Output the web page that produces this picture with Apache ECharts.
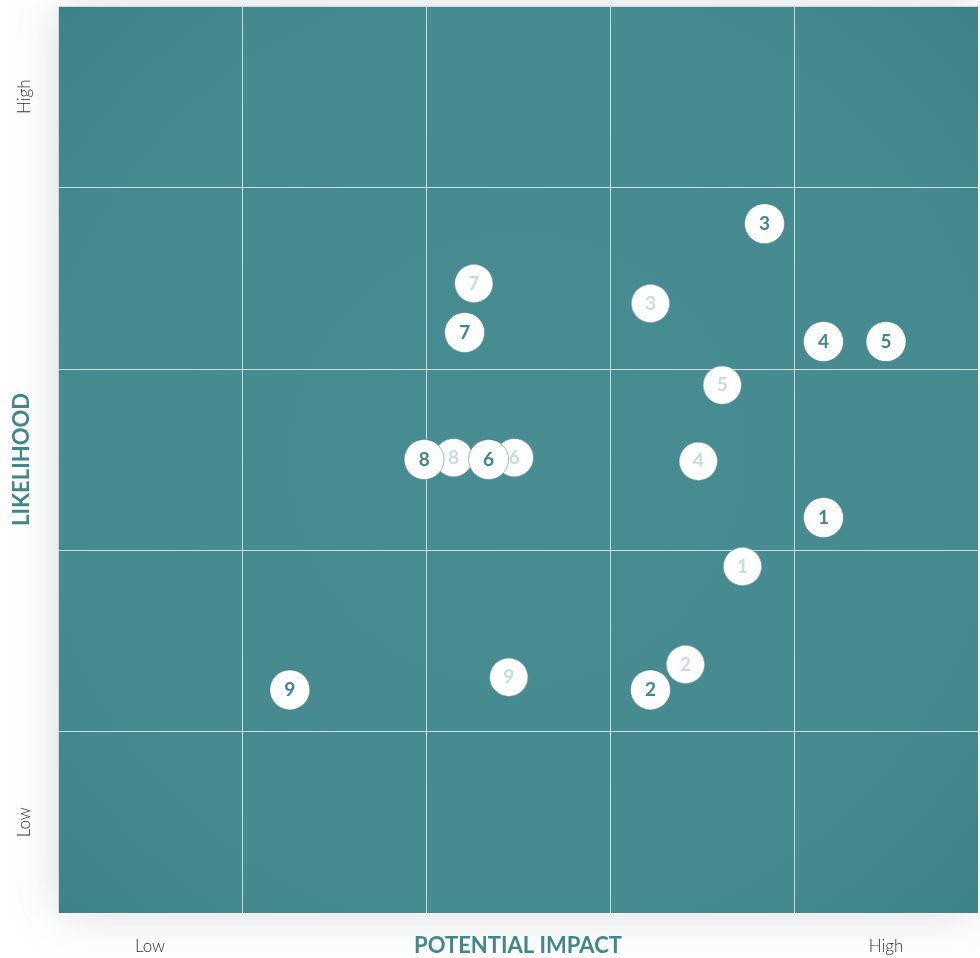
<!DOCTYPE html>
<html>
<head>
<meta charset="utf-8">
<script src="https://cdn.jsdelivr.net/npm/echarts@6/dist/echarts.min.js"></script>
<style>
html, body { margin: 0; padding: 0; background: #fff; }
#main { width: 980px; height: 958px; }
</style>
</head>
<body>
<div id="main"></div>
<script>
// risk ids
var riskIds = ['1', '2', '3', '4', '5', '6', '7', '8', '9'];
// current position (impact, likelihood) 0..5
var currImpact = [4.16, 3.22, 3.84, 4.16, 4.50, 2.34, 2.21, 1.99, 1.26];
var currLikely = [2.18, 1.23, 3.80, 3.15, 3.15, 2.50, 3.20, 2.50, 1.23];
// previous position
var prevImpact = [3.72, 3.41, 3.22, 3.48, 3.61, 2.48, 2.26, 2.15, 2.45];
var prevLikely = [1.91, 1.37, 3.36, 2.49, 2.91, 2.51, 3.47, 2.51, 1.30];
// axis tick labels
var lowHigh = ['Low', 'High'];

var teal = '#3f878c';

function points(xs, ys) {
	var out = [];
	for (var i = 0; i < riskIds.length; i++) {
		out.push([xs[i], ys[i], riskIds[i]]);
	}
	return out;
}

var myChart = echarts.init(document.getElementById('main'));

option = {
	animation: false,
	grid: {
		left: 58,
		top: 6,
		right: 2,
		bottom: 45,
		containLabel: false,
		outerBoundsMode: 'none',
		show: true,
		borderWidth: 0,
		backgroundColor: {
			type: 'radial', x: 0.5, y: 0.5, r: 0.75,
			colorStops: [
				{ offset: 0, color: '#478d92' },
				{ offset: 0.7, color: '#458a8f' },
				{ offset: 1, color: '#3c8186' }
			]
		},
		shadowBlur: 45,
		shadowColor: 'rgba(40,60,70,0.18)'
	},
	xAxis: {
		type: 'value',
		min: 0,
		max: 5,
		interval: 1,
		name: 'POTENTIAL IMPACT',
		nameLocation: 'middle',
		nameGap: 22,
		nameMoveOverlap: false,
		nameTextStyle: {
			color: teal, fontSize: 22, fontWeight: 'bold', fontFamily: 'Lato'
		},
		axisLine: { show: false },
		axisTick: { show: false },
		splitLine: { lineStyle: { color: 'rgba(255,255,255,0.7)', width: 1 } },
		axisLabel: {
			customValues: [0.5, 4.5],
			formatter: function (v) { return v < 2.5 ? lowHigh[0] : lowHigh[1]; },
			margin: 25,
			color: '#333',
			fontSize: 17,
			fontFamily: 'Lato',
			fontWeight: 300
		}
	},
	yAxis: {
		type: 'value',
		min: 0,
		max: 5,
		interval: 1,
		name: 'LIKELIHOOD',
		nameLocation: 'middle',
		nameGap: 25,
		nameRotate: 90,
		nameMoveOverlap: false,
		nameTextStyle: {
			color: teal, fontSize: 22, fontWeight: 'bold', fontFamily: 'Lato'
		},
		axisLine: { show: false },
		axisTick: { show: false },
		splitLine: { lineStyle: { color: 'rgba(255,255,255,0.7)', width: 1 } },
		axisLabel: {
			customValues: [0.5, 4.5],
			formatter: function (v) { return v < 2.5 ? lowHigh[0] : lowHigh[1]; },
			rotate: 90,
			margin: 25,
			color: '#333',
			fontSize: 17,
			fontFamily: 'Lato',
			fontWeight: 300
		}
	},
	series: [{
			name: 'previous',
			type: 'scatter',
			symbolSize: 38,
			data: points(prevImpact, prevLikely),
			itemStyle: {
				color: '#ffffff',
				opacity: 1,
				borderColor: 'rgba(150,170,175,0.5)',
				borderWidth: 1
			},
			label: {
				show: true,
				position: 'inside',
				formatter: function (p) { return p.value[2]; },
				color: '#c8dcdf',
				fontSize: 19,
				fontWeight: 'bold',
				fontFamily: 'Lato'
			},
			z: 2
		},
		{
			name: 'current',
			type: 'scatter',
			symbolSize: 40,
			data: points(currImpact, currLikely),
			itemStyle: {
				color: '#ffffff',
				opacity: 1,
				borderColor: 'rgba(60,120,125,0.5)',
				borderWidth: 1
			},
			label: {
				show: true,
				position: 'inside',
				formatter: function (p) { return p.value[2]; },
				color: teal,
				fontSize: 19,
				fontWeight: 'bold',
				fontFamily: 'Lato'
			},
			z: 3
		}
	]
};

myChart.setOption(option);
</script>
</body>
</html>
